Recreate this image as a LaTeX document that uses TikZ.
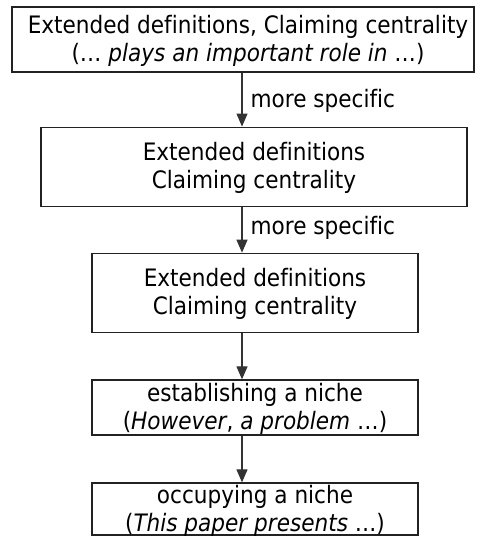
\documentclass[tikz,border=0pt]{standalone}
\usepackage{fontspec}
\setmainfont{DejaVu Sans}[FakeStretch=0.9, Ligatures=NoCommon]
\usetikzlibrary{arrows.meta}
\definecolor{boxgray}{HTML}{222222}
\definecolor{linegray}{HTML}{333333}
\begin{document}
\begin{tikzpicture}[x=1pt,y=-1pt,
  box/.style={draw=boxgray, line width=1.3pt, rectangle, inner sep=0pt, align=center,
    text height=49pt, font=\fontsize{24}{28}\selectfont},
  arr/.style={draw=linegray, line width=1.2pt, -{Triangle[length=13pt,width=11pt]}},
  lab/.style={font=\fontsize{24}{28}\selectfont, anchor=base west, inner sep=0pt, xshift=8pt}]
\useasboundingbox (0,0) rectangle (480,536);
\node[box, minimum width=462pt, minimum height=65pt] (b1) at (243,39.5)
  {\hspace*{10pt}Extended definitions, Claiming centrality\\\hspace*{10pt}(… \textit{plays an important role in} …)};
\node[box, minimum width=426pt, minimum height=79pt] (b2) at (254,166.7)
  {Extended definitions\\Claiming centrality};
\node[box, minimum width=326pt, minimum height=79pt] (b3) at (255,292.8)
  {Extended definitions\\Claiming centrality};
\node[box, minimum width=326pt, minimum height=55pt] (b4) at (255,407.5)
  {establishing a niche\\(\textit{However}, \textit{a problem} …)};
\node[box, minimum width=326pt, minimum height=52pt, text height=48pt, text depth=4pt] (b5) at (255,509)
  {occupying a niche\\(\textit{This paper presents} …)};
\coordinate (ax) at (242,0);
\draw[arr] (b1.south -| ax) -- node[lab, yshift=-8pt] {more specific} (b2.north -| ax);
\draw[arr] (b2.south -| ax) -- node[lab, yshift=-5pt] {more specific} (b3.north -| ax);
\draw[arr] (b3.south -| ax) -- (b4.north -| ax);
\draw[arr] (b4.south -| ax) -- (b5.north -| ax);
\end{tikzpicture}
\end{document}
